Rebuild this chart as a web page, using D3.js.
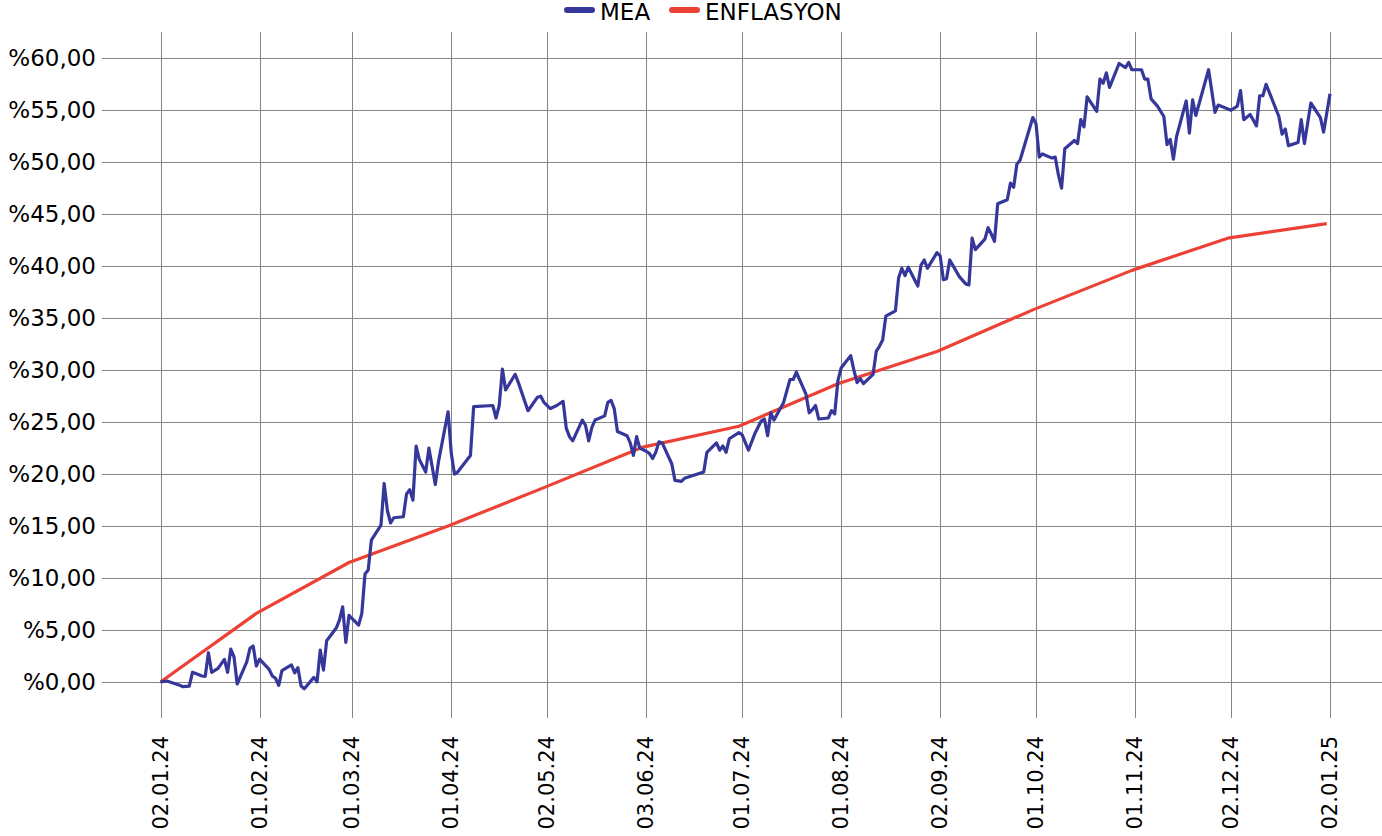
<!DOCTYPE html>
<html>
<head>
<meta charset="utf-8">
<script src="https://cdn.jsdelivr.net/npm/d3@7"></script>
<style>
  html, body { margin: 0; padding: 0; background: #ffffff; }
  svg { display: block; font-family: "DejaVu Sans", sans-serif; }
</style>
</head>
<body>
<svg id="chart" width="1382" height="836"></svg>
<script>
// ---------------- DATA ----------------
const seriesNames = ["MEA", "ENFLASYON"];

const meaDates = [
  "2024-01-01","2024-01-03","2024-01-07","2024-01-08","2024-01-10","2024-01-11","2024-01-14","2024-01-15","2024-01-16","2024-01-17",
  "2024-01-19","2024-01-21","2024-01-22","2024-01-23","2024-01-24","2024-01-25","2024-01-28","2024-01-29","2024-01-30","2024-01-31",
  "2024-02-01","2024-02-04","2024-02-05","2024-02-06","2024-02-07","2024-02-08","2024-02-11","2024-02-12","2024-02-13","2024-02-14",
  "2024-02-15","2024-02-18","2024-02-19","2024-02-20","2024-02-21","2024-02-22","2024-02-25","2024-02-26","2024-02-27","2024-02-28",
  "2024-02-29","2024-03-03","2024-03-04","2024-03-05","2024-03-06","2024-03-07","2024-03-10","2024-03-11","2024-03-12","2024-03-13",
  "2024-03-14","2024-03-17","2024-03-18","2024-03-19","2024-03-20","2024-03-21","2024-03-22","2024-03-24","2024-03-25","2024-03-27",
  "2024-03-28","2024-03-31","2024-04-01","2024-04-02","2024-04-03","2024-04-07","2024-04-08","2024-04-14","2024-04-15","2024-04-16",
  "2024-04-17","2024-04-18","2024-04-21","2024-04-22","2024-04-25","2024-04-28","2024-04-29","2024-04-30","2024-05-02","2024-05-04",
  "2024-05-06","2024-05-07","2024-05-08","2024-05-09","2024-05-12","2024-05-13","2024-05-14","2024-05-15","2024-05-16","2024-05-19",
  "2024-05-20","2024-05-21","2024-05-22","2024-05-23","2024-05-26","2024-05-27","2024-05-28","2024-05-29","2024-05-30","2024-06-01",
  "2024-06-02","2024-06-03","2024-06-04","2024-06-05","2024-06-06","2024-06-09","2024-06-10","2024-06-12","2024-06-13","2024-06-19",
  "2024-06-20","2024-06-23","2024-06-24","2024-06-25","2024-06-26","2024-06-27","2024-06-30","2024-07-01","2024-07-03","2024-07-05",
  "2024-07-07","2024-07-08","2024-07-09","2024-07-10","2024-07-11","2024-07-14","2024-07-16","2024-07-17","2024-07-18","2024-07-21",
  "2024-07-22","2024-07-23","2024-07-24","2024-07-25","2024-07-28","2024-07-29","2024-07-30","2024-07-31","2024-08-01","2024-08-04",
  "2024-08-05","2024-08-06","2024-08-07","2024-08-08","2024-08-11","2024-08-12","2024-08-13","2024-08-14","2024-08-15","2024-08-18",
  "2024-08-19","2024-08-20","2024-08-21","2024-08-22","2024-08-25","2024-08-26","2024-08-27","2024-08-28","2024-08-31","2024-09-01",
  "2024-09-02","2024-09-03","2024-09-04","2024-09-07","2024-09-09","2024-09-10","2024-09-11","2024-09-12","2024-09-15","2024-09-16",
  "2024-09-17","2024-09-18","2024-09-19","2024-09-22","2024-09-23","2024-09-24","2024-09-25","2024-09-26","2024-09-30","2024-10-01",
  "2024-10-02","2024-10-03","2024-10-06","2024-10-07","2024-10-08","2024-10-09","2024-10-10","2024-10-13","2024-10-14","2024-10-15",
  "2024-10-16","2024-10-17","2024-10-20","2024-10-21","2024-10-22","2024-10-23","2024-10-24","2024-10-27","2024-10-29","2024-10-30",
  "2024-10-31","2024-11-03","2024-11-04","2024-11-05","2024-11-06","2024-11-08","2024-11-10","2024-11-11","2024-11-12","2024-11-13",
  "2024-11-14","2024-11-17","2024-11-18","2024-11-19","2024-11-20","2024-11-24","2024-11-26","2024-11-27","2024-12-01","2024-12-03",
  "2024-12-04","2024-12-05","2024-12-07","2024-12-09","2024-12-10","2024-12-11","2024-12-12","2024-12-16","2024-12-17","2024-12-18",
  "2024-12-19","2024-12-22","2024-12-23","2024-12-24","2024-12-26","2024-12-29","2024-12-30","2025-01-01"
];
const meaValues = [
  0.0, 0.1, -0.3, -0.45, -0.4, 0.93, 0.58, 0.55, 2.82, 0.93,
  1.32, 2.18, 0.93, 3.17, 2.43, -0.19, 1.95, 3.24, 3.46, 1.54,
  2.21, 1.22, 0.58, 0.36, -0.32, 1.09, 1.64, 0.89, 1.38, -0.38,
  -0.64, 0.45, 0.03, 3.08, 1.15, 3.97, 5.19, 5.96, 7.24, 3.82,
  6.42, 5.48, 6.61, 10.39, 10.77, 13.66, 15.1, 19.1, 16.5, 15.3,
  15.8, 15.9, 18.1, 18.5, 17.5, 22.7, 21.4, 20.2, 22.5, 19.0,
  21.2, 26.0, 22.0, 20.0, 20.2, 21.8, 26.5, 26.6, 25.4, 26.6,
  30.1, 28.1, 29.6, 28.8, 26.1, 27.4, 27.5, 26.9, 26.3, 26.6,
  27.0, 24.4, 23.6, 23.2, 25.2, 24.7, 23.2, 24.5, 25.2, 25.6,
  26.9, 27.1, 26.3, 24.1, 23.7, 23.0, 21.8, 23.6, 22.5, 22.2,
  22.0, 21.5, 22.1, 23.1, 23.0, 21.0, 19.4, 19.3, 19.6, 20.2,
  22.1, 23.0, 22.3, 22.7, 22.1, 23.4, 24.0, 23.8, 22.3, 23.9,
  25.1, 25.3, 23.7, 25.9, 25.2, 26.9, 29.1, 29.1, 29.8, 27.7,
  25.9, 26.2, 26.6, 25.3, 25.4, 26.1, 25.8, 29.0, 30.2, 31.4,
  30.0, 28.8, 29.2, 28.7, 29.6, 31.8, 32.3, 32.9, 35.2, 35.7,
  38.9, 39.8, 39.1, 39.9, 38.1, 40.1, 40.6, 39.8, 41.3, 41.0,
  38.7, 38.8, 40.6, 39.0, 38.3, 38.2, 42.7, 41.6, 42.6, 43.7,
  43.1, 42.4, 46.0, 46.4, 48.0, 47.6, 49.8, 50.2, 54.3, 53.7,
  50.5, 50.8, 50.4, 50.5, 48.8, 47.5, 51.3, 52.1, 51.8, 54.1,
  53.4, 56.3, 54.9, 58.0, 57.6, 58.6, 57.2, 59.5, 59.1, 59.6,
  58.9, 58.9, 58.0, 58.0, 56.1, 55.4, 54.4, 51.7, 52.2, 50.3,
  52.5, 55.9, 52.8, 56.0, 54.5, 58.9, 54.8, 55.5, 55.0, 55.4,
  56.9, 54.1, 54.6, 53.5, 56.4, 56.4, 57.5, 54.4, 52.7, 53.2,
  51.6, 51.9, 54.1, 51.8, 55.7, 54.3, 52.9, 56.6
];

const infDates = [
  "2024-01-01","2024-01-31","2024-02-29","2024-03-31","2024-04-30","2024-05-31","2024-06-30",
  "2024-07-31","2024-08-31","2024-09-30","2024-10-31","2024-11-30","2024-12-31"
];
const infValues = [0.0, 6.6, 11.5, 15.0, 18.7, 22.6, 24.6, 28.7, 31.8, 35.8, 39.6, 42.7, 44.1];

const xTickDates = [
  "2024-01-01","2024-02-01","2024-03-01","2024-04-01","2024-05-01","2024-06-01","2024-07-01",
  "2024-08-01","2024-09-01","2024-10-01","2024-11-01","2024-12-01","2025-01-01"
];
const xTickLabels = [
  "02.01.24","01.02.24","01.03.24","01.04.24","02.05.24","03.06.24","01.07.24",
  "01.08.24","02.09.24","01.10.24","01.11.24","02.12.24","02.01.25"
];
const yTicks = [0, 5, 10, 15, 20, 25, 30, 35, 40, 45, 50, 55, 60];

// ---------------- CHART ----------------
const parse = d3.timeParse("%Y-%m-%d");
const colors = { MEA: "#35379a", ENFLASYON: "#ec4236" };

const mea = meaDates.map((d, i) => ({ date: parse(d), value: meaValues[i] }));
const inf = infDates.map((d, i) => ({ date: parse(d), value: infValues[i] }));
const ticks = xTickDates.map((d, i) => ({ date: parse(d), label: xTickLabels[i] }));

const plotLeft = 102, plotRight = 1382, plotTop = 32, plotBottom = 718;

const x = d3.scaleTime()
  .domain([parse("2024-01-01"), parse("2025-01-01")])
  .range([160.5, 1330]);
const y = d3.scaleLinear()
  .domain([-3.46, 62.53])
  .range([plotBottom, plotTop]);

const locale = d3.formatLocale({ decimal: ",", thousands: ".", grouping: [3], currency: ["", ""] });
const fmt = locale.format(".2f");

const svg = d3.select("#chart");
const gridColor = "#858585";

// horizontal grid
svg.append("g").selectAll("line").data(yTicks).join("line")
  .attr("x1", plotLeft).attr("x2", plotRight)
  .attr("y1", d => Math.round(y(d)) + 0.5).attr("y2", d => Math.round(y(d)) + 0.5)
  .attr("stroke", gridColor).attr("stroke-width", 1);

// vertical grid
svg.append("g").selectAll("line").data(ticks).join("line")
  .attr("x1", d => Math.round(x(d.date)) + 0.5).attr("x2", d => Math.round(x(d.date)) + 0.5)
  .attr("y1", plotTop).attr("y2", plotBottom)
  .attr("stroke", gridColor).attr("stroke-width", 1);

// y labels
svg.append("g").selectAll("text").data(yTicks).join("text")
  .attr("x", 96).attr("y", d => y(d))
  .attr("text-anchor", "end").attr("dominant-baseline", "central")
  .attr("font-size", 23).attr("fill", "#000")
  .text(d => "%" + fmt(d));

// x labels
svg.append("g").selectAll("text").data(ticks).join("text")
  .attr("transform", d => `translate(${x(d.date)},736) rotate(-90)`)
  .attr("text-anchor", "end").attr("dominant-baseline", "central")
  .attr("font-size", 21).attr("fill", "#000")
  .text(d => d.label);

// lines
const line = d3.line().x(d => x(d.date)).y(d => y(d.value));
svg.append("path").datum(inf)
  .attr("d", line).attr("fill", "none")
  .attr("stroke", colors.ENFLASYON).attr("stroke-width", 3.2).attr("stroke-linejoin", "round");
svg.append("path").datum(mea)
  .attr("d", line).attr("fill", "none")
  .attr("stroke", colors.MEA).attr("stroke-width", 3.2).attr("stroke-linejoin", "round");

// legend
const legendItems = [
  { name: seriesNames[0], x0: 567 },
  { name: seriesNames[1], x0: 672 }
];
const lg = svg.append("g").selectAll("g").data(legendItems).join("g")
  .attr("transform", d => `translate(${d.x0},10)`);
lg.append("line").attr("x1", 0).attr("x2", 25).attr("y1", 0).attr("y2", 0)
  .attr("stroke", d => colors[d.name]).attr("stroke-width", 6).attr("stroke-linecap", "round");
lg.append("text").attr("x", 33).attr("y", 9.5)
  .attr("font-size", 23).attr("fill", "#000")
  .text(d => d.name);
</script>
</body>
</html>
